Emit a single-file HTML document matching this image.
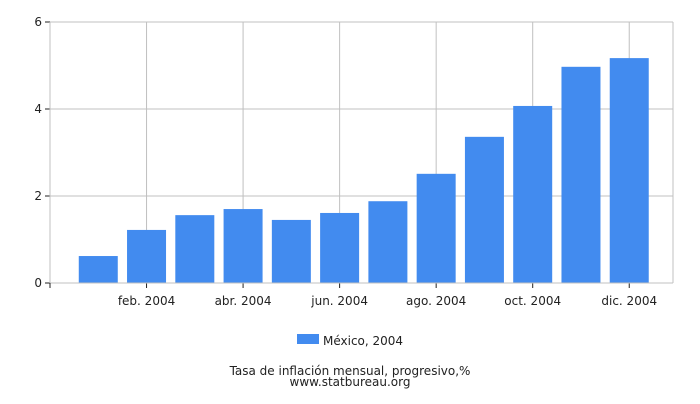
<!DOCTYPE html>
<html><head><meta charset="utf-8">
<style>
body{margin:0;background:#fff;font-family:"DejaVu Sans","Liberation Sans",sans-serif;}
svg text{font-family:"DejaVu Sans","Liberation Sans",sans-serif;fill:#222;}
</style></head>
<body>
<svg id="chart" width="700" height="400">
<g id="grid"></g>
<g id="bars"></g>
<g id="axes"></g>
<rect x="297" y="334" width="22" height="10" fill="#428bef"/>
<text x="323" y="345" font-size="12">México, 2004</text>
<text x="350" y="375" font-size="12" text-anchor="middle">Tasa de inflación mensual, progresivo,%</text>
<text x="350" y="386" font-size="12" text-anchor="middle">www.statbureau.org</text>
</svg>
<script>
const categories=["ene. 2004","feb. 2004","mar. 2004","abr. 2004","may. 2004","jun. 2004","jul. 2004","ago. 2004","sep. 2004","oct. 2004","nov. 2004","dic. 2004"];
const values=[0.62,1.22,1.56,1.70,1.45,1.61,1.88,2.51,3.36,4.07,4.97,5.17];
const yTicks=[0,2,4,6];
const NS="http://www.w3.org/2000/svg";
const L=50,R=673,T=22,B=283,step=48.27,bw=39;
function x(i){return L+(i+1)*step;}
function y(v){return B-(v/6)*(B-T);}
function mk(tag,attrs,parent){const e=document.createElementNS(NS,tag);for(const k in attrs)e.setAttribute(k,attrs[k]);parent.appendChild(e);return e;}
const grid=document.getElementById('grid'),bars=document.getElementById('bars'),axes=document.getElementById('axes');
yTicks.forEach(t=>{
  const l=mk('line',{x1:L,x2:R,y1:y(t),y2:y(t),stroke:'#c0c0c0','stroke-width':1},grid);
  
  
  const tk=mk('line',{x1:L-5,x2:L,y1:y(t),y2:y(t),stroke:'#222','stroke-width':1},axes);
  
  
  const tx=mk('text',{x:L-8,y:y(t)+4,'font-size':12,'text-anchor':'end'},axes);
  tx.textContent=t;
  
  
});
const rb=mk('line',{x1:R,x2:R,y1:T,y2:B,stroke:'#c0c0c0'},grid);


categories.forEach((c,i)=>{
  if(i%2===1){
    const g=mk('line',{x1:x(i),x2:x(i),y1:T,y2:B,stroke:'#c0c0c0'},grid);
    
    
    const tk=mk('line',{x1:x(i),x2:x(i),y1:B,y2:B+5,stroke:'#222'},axes);
    
    
    const tx=mk('text',{x:x(i),y:B+22,'font-size':12,'text-anchor':'middle'},axes);
    tx.textContent=c;
    
    
  }
  const b=mk('rect',{x:x(i)-bw/2,y:y(values[i]),width:bw,height:B-y(values[i]),fill:'#428bef'},bars);
  
  
});
const xa=mk('line',{x1:L,x2:R,y1:B,y2:B,stroke:'#c0c0c0'},axes);


const ya=mk('line',{x1:L,x2:L,y1:T,y2:B,stroke:'#c0c0c0'},axes);


const t0=mk('line',{x1:L,x2:L,y1:B,y2:B+5,stroke:'#222'},axes);


</script>
</body></html>
